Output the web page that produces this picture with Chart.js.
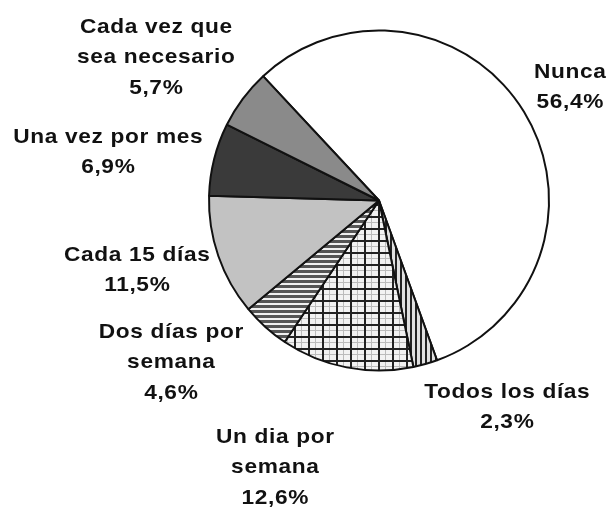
<!DOCTYPE html>
<html>
<head>
<meta charset="utf-8">
<script src="https://cdn.jsdelivr.net/npm/chart.js@4.4.0/dist/chart.umd.min.js"></script>
<style>
  html, body { margin: 0; padding: 0; background: #fff; }
  #wrap { width: 610px; height: 508px; }
</style>
</head>
<body>
<div id="wrap"><canvas id="chart" width="610" height="508"></canvas></div>
<script>
const categories = ["Nunca", "Todos los días", "Un dia por semana", "Dos días por semana", "Cada 15 días", "Una vez por mes", "Cada vez que sea necesario"];
const percents = [56.4, 2.3, 12.6, 4.6, 11.5, 6.9, 5.7];
const valueLabels = ["56,4%", "2,3%", "12,6%", "4,6%", "11,5%", "6,9%", "5,7%"];
// how each label breaks across lines in the picture
const labelLines = [["Nunca"], ["Todos los días"], ["Un dia por", "semana"], ["Dos días por", "semana"], ["Cada 15 días"], ["Una vez por mes"], ["Cada vez que", "sea necesario"]];

function tile(w, h, draw) {
  const c = document.createElement("canvas");
  c.width = w; c.height = h;
  draw(c.getContext("2d"));
  return c.getContext("2d").createPattern(c, "repeat");
}

const vStripes = tile(5, 5, g => {
  g.fillStyle = "#e0e0e0"; g.fillRect(0, 0, 5, 5);
  g.fillStyle = "#222"; g.fillRect(0, 0, 2, 5);
});
const grid = tile(14, 12, g => {
  g.fillStyle = "#f2f2f2"; g.fillRect(0, 0, 14, 12);
  g.fillStyle = "#bbb"; g.fillRect(7, 0, 1, 12); g.fillRect(0, 6, 14, 1);
  g.fillStyle = "#222"; g.fillRect(0, 0, 2, 12); g.fillRect(0, 0, 14, 2);
});
const hStripes = tile(5, 5, g => {
  g.fillStyle = "#f0f0f0"; g.fillRect(0, 0, 5, 5);
  g.fillStyle = "#555"; g.fillRect(0, 0, 5, 3);
});

const fills = ["#ffffff", vStripes, grid, hStripes, "#c2c2c2", "#3a3a3a", "#8a8a8a"];

// label anchor points (text centres, first line)
const labelPos = [[570, 72], [507, 392], [275, 437], [171, 332], [137, 255], [108, 137], [156, 27]];

const labelPlugin = {
  id: "pieLabels",
  afterDraw(chart) {
    const ctx = chart.ctx;
    ctx.save();
    ctx.fillStyle = "#111";
    ctx.font = "bold 21px 'Liberation Sans', Arial, sans-serif";
    ctx.letterSpacing = "0.6px";
    ctx.textAlign = "center";
    ctx.textBaseline = "middle";
    const sx = 1.08;
    labelLines.forEach((lines, i) => {
      const [x, y] = labelPos[i];
      const all = lines.concat([valueLabels[i]]);
      all.forEach((t, k) => {
        ctx.save();
        ctx.translate(x + 0.3, y + k * 30.5);
        ctx.scale(sx, 1);
        ctx.fillText(t, 0, 0);
        ctx.restore();
      });
    });
    ctx.restore();
  }
};

new Chart(document.getElementById("chart"), {
  type: "pie",
  data: {
    labels: categories,
    datasets: [{
      data: percents,
      backgroundColor: fills,
      borderColor: "#111",
      borderWidth: 2,
      hoverOffset: 0
    }]
  },
  options: {
    responsive: false,
    animation: false,
    rotation: -43,
    layout: { padding: { left: 208, right: 60, top: 29, bottom: 136 } },
    plugins: {
      legend: { display: false },
      tooltip: { enabled: false },
      title: { display: false }
    }
  },
  plugins: [labelPlugin]
});
</script>
</body>
</html>
